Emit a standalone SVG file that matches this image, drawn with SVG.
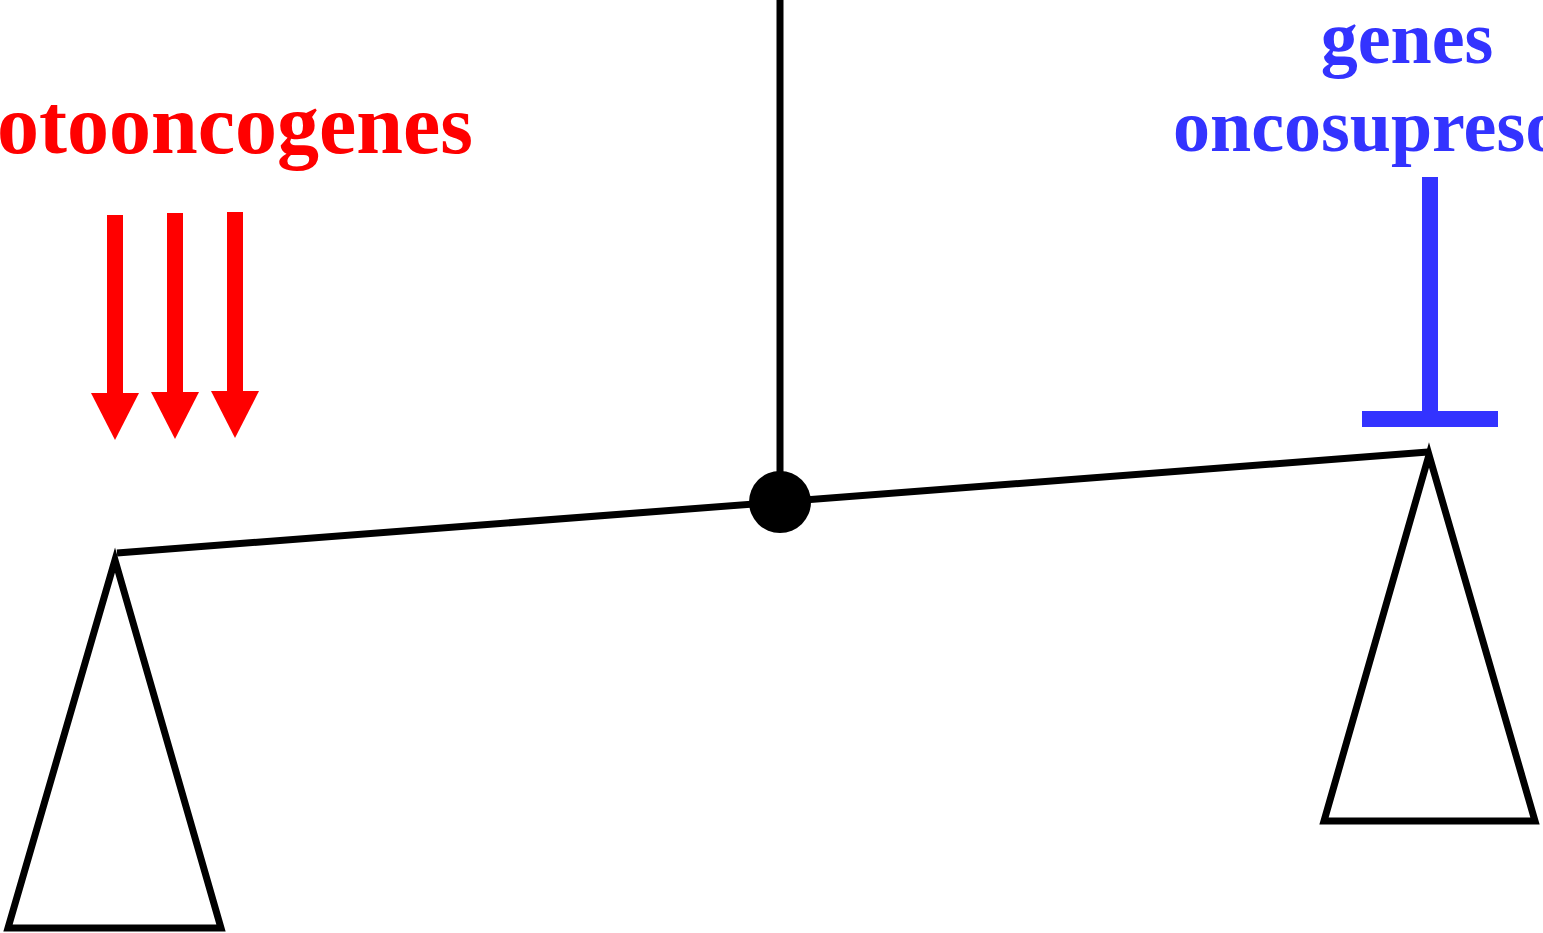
<svg xmlns="http://www.w3.org/2000/svg" width="1543" height="933" viewBox="0 0 1543 933">
<style>
.k{fill:none;stroke:#000;stroke-width:7}
.red{fill:#FF0000}
.blue{fill:#3333FF}
.t{font-family:"Liberation Serif","Times New Roman",serif;font-weight:bold}
</style>
<rect width="1543" height="933" fill="#fff"/>
<g id="connectors">
<line class="k" x1="780" y1="0" x2="780" y2="480"/>
<line class="k" x1="117" y1="553" x2="1428" y2="452"/>
</g>
<g id="pivot"><circle cx="780" cy="502" r="31" fill="#000"/></g>
<g id="left-pan"><polygon class="k" points="115,560 8,928 221,928"/></g>
<g id="right-pan"><polygon class="k" points="1429,455 1324,821 1535,821"/></g>
<g id="protooncogenes">
<text class="t red" x="473" y="153" font-size="84" text-anchor="end">protooncogenes</text>
<g class="red">
<rect x="107" y="215" width="16" height="180"/><polygon points="91,393 139,393 115,440"/>
<rect x="167" y="213" width="16" height="180"/><polygon points="151,392 199,392 175,439"/>
<rect x="227" y="212" width="16" height="180"/><polygon points="211,391 259,391 235,438"/>
</g>
</g>
<g id="oncosupresores">
<text class="t blue" x="1407" y="63" font-size="74" text-anchor="middle">genes</text>
<text class="t blue" x="1173" y="151" font-size="74">oncosupresores</text>
<rect class="blue" x="1422" y="177" width="16" height="242"/>
<rect class="blue" x="1362" y="411" width="136" height="16"/>
</g>
</svg>
